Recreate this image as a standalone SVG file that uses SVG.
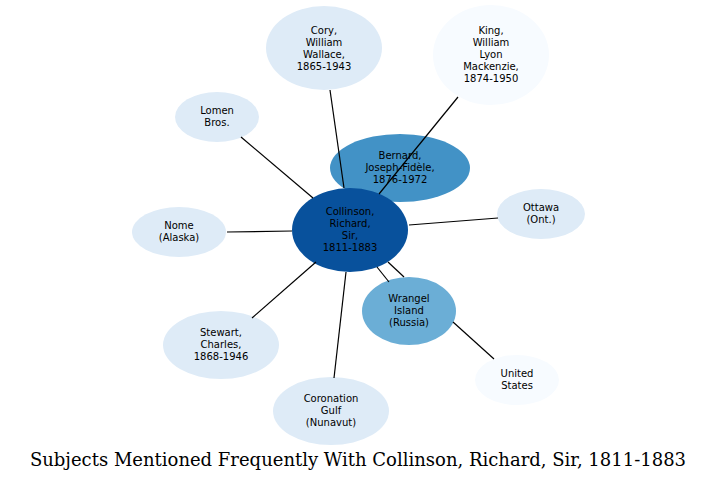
<svg xmlns="http://www.w3.org/2000/svg" width="717" height="481" viewBox="0 0 717 481">
<style>
.n text{font-family:"DejaVu Sans",sans-serif;font-size:10px;text-anchor:middle;fill:#000}
.c line{stroke:#000;stroke-width:1.2}
.l{fill:#deebf7}.w{fill:#f7fbff}
</style>
<rect width="717" height="481" fill="#fff"/>
<g id="cory" class="n"><ellipse class="l" cx="324" cy="48" rx="58" ry="42"/><text x="324" y="34">Cory,</text><text x="324" y="46">William</text><text x="324" y="58">Wallace,</text><text x="324" y="70">1865-1943</text></g>
<g id="king" class="n"><ellipse class="w" cx="491" cy="55" rx="58" ry="50"/><text x="491" y="34">King,</text><text x="491" y="46">William</text><text x="491" y="58">Lyon</text><text x="491" y="70">Mackenzie,</text><text x="491" y="82">1874-1950</text></g>
<g id="lomen" class="n"><ellipse class="l" cx="217" cy="117" rx="42" ry="25"/><text x="217" y="114">Lomen</text><text x="217" y="126">Bros.</text></g>
<g id="ottawa" class="n"><ellipse class="l" cx="541" cy="214" rx="44" ry="25"/><text x="541" y="211">Ottawa</text><text x="541" y="223">(Ont.)</text></g>
<g id="nome" class="n"><ellipse class="l" cx="179" cy="232" rx="47" ry="25"/><text x="179" y="229">Nome</text><text x="179" y="241">(Alaska)</text></g>
<g id="stewart" class="n"><ellipse class="l" cx="221" cy="345" rx="58" ry="34"/><text x="221" y="336">Stewart,</text><text x="221" y="348">Charles,</text><text x="221" y="360">1868-1946</text></g>
<g id="coronation" class="n"><ellipse class="l" cx="331" cy="411" rx="58" ry="34"/><text x="331" y="402">Coronation</text><text x="331" y="414">Gulf</text><text x="331" y="426">(Nunavut)</text></g>
<g id="us" class="n"><ellipse class="w" cx="517" cy="380" rx="42" ry="25"/><text x="517" y="377">United</text><text x="517" y="389">States</text></g>
<g id="wrangel" class="n"><ellipse fill="#6baed6" cx="409" cy="311" rx="47" ry="34"/><text x="409" y="302">Wrangel</text><text x="409" y="314">Island</text><text x="409" y="326">(Russia)</text></g>
<g id="bernard" class="n"><ellipse fill="#4292c6" cx="400" cy="168" rx="70" ry="34"/><text x="400" y="159">Bernard,</text><text x="400" y="171">Joseph-Fidèle,</text><text x="400" y="183">1876-1972</text></g>
<g id="collinson" class="n"><ellipse fill="#08519c" cx="350" cy="230" rx="58" ry="42"/><text x="350" y="215">Collinson,</text><text x="350" y="227">Richard,</text><text x="350" y="239">Sir,</text><text x="350" y="251">1811-1883</text></g>
<g class="c">
<line x1="330" y1="90" x2="344" y2="188"/>
<line x1="458" y1="97" x2="379" y2="194"/>
<line x1="241" y1="137" x2="313" y2="198"/>
<line x1="498" y1="218" x2="409" y2="225"/>
<line x1="227" y1="232" x2="292" y2="231"/>
<line x1="252" y1="318" x2="316" y2="262"/>
<line x1="334" y1="378" x2="346" y2="272"/>
<line x1="377" y1="267" x2="389" y2="282"/>
<line x1="388" y1="262" x2="404" y2="277"/>
<line x1="453" y1="322" x2="494" y2="359"/>
</g>
<text x="358" y="466" font-family="'DejaVu Serif',serif" font-size="18" text-anchor="middle">Subjects Mentioned Frequently With Collinson, Richard, Sir, 1811-1883</text>
</svg>
